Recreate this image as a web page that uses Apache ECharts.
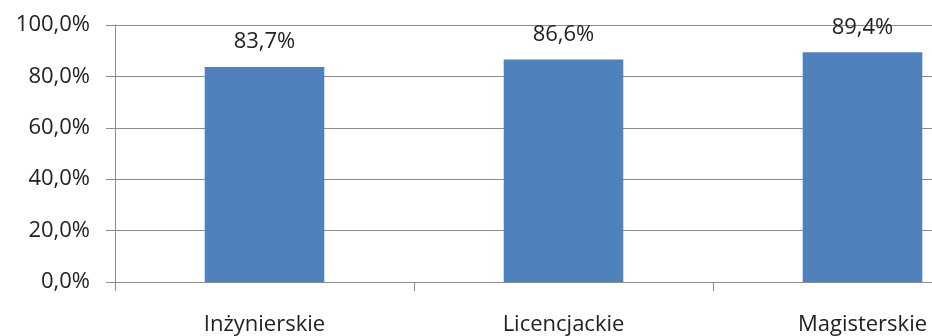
<!DOCTYPE html>
<html>
<head>
<meta charset="utf-8">
<script src="https://cdn.jsdelivr.net/npm/echarts@6/dist/echarts.min.js"></script>
<style>
  html, body { margin: 0; padding: 0; background: #fff; }
  #wrap { width: 932px; height: 336px; overflow: hidden; }
  /* the original picture is cut on the right: the plot goes on past the edge */
  #chart { width: 1012px; height: 336px; }
</style>
</head>
<body>
<div id="wrap"><div id="chart"></div></div>
<script>
// dane z wykresu
const categories = ["Inżynierskie", "Licencjackie", "Magisterskie"];
const values = [83.7, 86.6, 89.4];
const yTicks = [0, 20, 40, 60, 80, 100];

const fmt = v => v.toFixed(1).replace(".", ",") + "%";
const font = "'Open Sans', 'Noto Sans', sans-serif";
const gray = "#8c8c8c";

const chart = echarts.init(document.getElementById("chart"));
chart.setOption({
  animation: false,
  grid: { left: 115, right: 0, top: 25, bottom: 53 },
  xAxis: {
    type: "category",
    data: categories,
    axisLine: { lineStyle: { color: gray } },
    axisTick: { show: true, length: 9, lineStyle: { color: gray } },
    axisLabel: {
      color: "#222",
      fontFamily: font,
      fontSize: 22,
      margin: 32
    }
  },
  yAxis: {
    type: "value",
    min: yTicks[0],
    max: yTicks[yTicks.length - 1],
    interval: yTicks[1] - yTicks[0],
    axisLine: { show: true, lineStyle: { color: gray } },
    axisTick: { show: true, length: 9, lineStyle: { color: gray } },
    splitLine: { lineStyle: { color: gray } },
    axisLabel: {
      color: "#222",
      fontFamily: font,
      fontSize: 22,
      margin: 25,
      formatter: v => fmt(v)
    }
  },
  series: [
    {
      type: "bar",
      data: values,
      barWidth: "40%",
      itemStyle: { color: "#4f81bd" },
      label: {
        show: true,
        position: "top",
        distance: 14,
        color: "#222",
        fontFamily: font,
        fontSize: 22,
        formatter: p => fmt(p.value)
      }
    }
  ]
});
</script>
</body>
</html>
